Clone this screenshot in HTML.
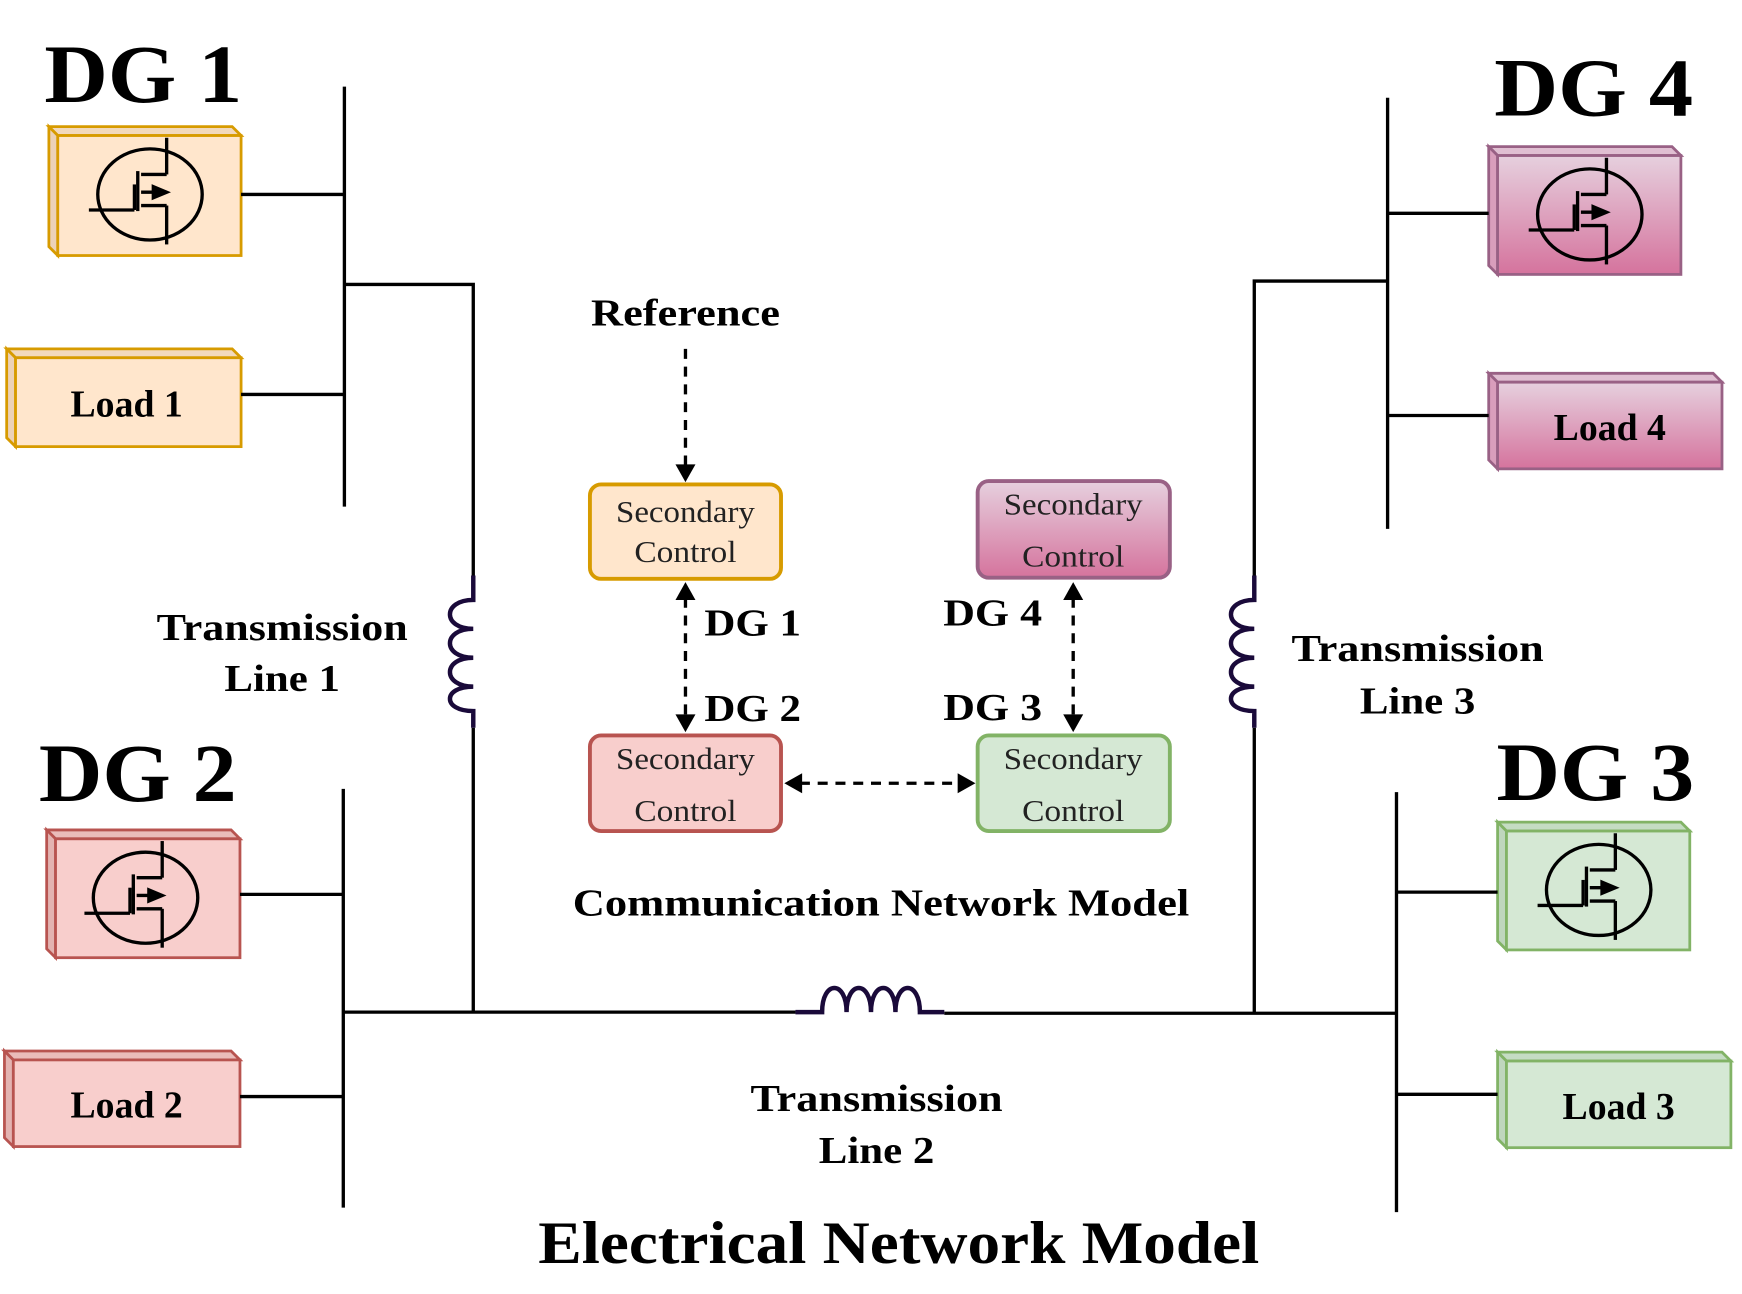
<!DOCTYPE html>
<html><head><meta charset="utf-8"><style>
html,body{margin:0;padding:0;background:#fff}
svg{display:block}
text{font-family:"Liberation Serif",serif}
</style></head><body>
<svg width="1742" height="1294" viewBox="0 0 1568 1164.7" preserveAspectRatio="none" xmlns="http://www.w3.org/2000/svg">
<defs>
<linearGradient id="pk" x1="0" y1="0" x2="0" y2="1"><stop offset="0" stop-color="#e6d0de"/><stop offset="1" stop-color="#d5739d"/></linearGradient>
<g id="mos" fill="none" stroke="#000" stroke-width="3">
<ellipse cx="83" cy="53" rx="47" ry="41"/>
<line x1="98" y1="2" x2="98" y2="35"/><line x1="98" y1="35" x2="75" y2="35"/>
<line x1="98" y1="63" x2="98" y2="98"/><line x1="98" y1="63" x2="75" y2="63"/>
<line x1="75" y1="51" x2="98" y2="51"/><path d="M86 46 L98 51 L86 56 Z" fill="#000"/>
<line x1="72" y1="32" x2="72" y2="68"/>
<line x1="28" y1="67" x2="69" y2="67"/><line x1="69" y1="44" x2="69" y2="67"/>
</g>
</defs>
<g stroke-width="2.5">
<g fill="#ffe6cc" stroke="#d79b00">
<path d="M44 114 L209 114 L217 122 L52 122 Z" fill="#f2d9bd"/><path d="M44 114 L52 122 L52 230 L44 222 Z" fill="#ecd2b8"/><rect x="52" y="122" width="165" height="108"/>
<path d="M6 314 L209 314 L217 322 L14 322 Z" fill="#f2d9bd"/><path d="M6 314 L14 322 L14 402 L6 394 Z" fill="#ecd2b8"/><rect x="14" y="322" width="203" height="80"/>
</g>
<g fill="#f8cecc" stroke="#b85450">
<path d="M42 747 L208 747 L216 755 L50 755 Z" fill="#eabcba"/><path d="M42 747 L50 755 L50 862 L42 854 Z" fill="#e3b3b1"/><rect x="50" y="755" width="166" height="107"/>
<path d="M4 946 L208 946 L216 954 L12 954 Z" fill="#eabcba"/><path d="M4 946 L12 954 L12 1032 L4 1024 Z" fill="#e3b3b1"/><rect x="12" y="954" width="204" height="78"/>
</g>
<g fill="url(#pk)" stroke="#996185">
<path d="M1340 132 L1505 132 L1513 140 L1348 140 Z" fill="#e0bfd2"/><path d="M1340 132 L1348 140 L1348 247 L1340 239 Z" fill="#d99ebc"/><rect x="1348" y="140" width="165" height="107"/>
<path d="M1340 336 L1542 336 L1550 344 L1348 344 Z" fill="#e0bfd2"/><path d="M1340 336 L1348 344 L1348 422 L1340 414 Z" fill="#d99ebc"/><rect x="1348" y="344" width="202" height="78"/>
</g>
<g fill="#d5e8d4" stroke="#82b366">
<path d="M1348 740 L1513 740 L1521 748 L1356 748 Z" fill="#c5dcc3"/><path d="M1348 740 L1356 748 L1356 855 L1348 847 Z" fill="#bfd6bd"/><rect x="1356" y="748" width="165" height="107"/>
<path d="M1348 947 L1550 947 L1558 955 L1356 955 Z" fill="#c5dcc3"/><path d="M1348 947 L1356 955 L1356 1033 L1348 1025 Z" fill="#bfd6bd"/><rect x="1356" y="955" width="202" height="78"/>
</g>
</g>
<use href="#mos" x="52" y="122"/>
<use href="#mos" x="48" y="755"/>
<use href="#mos" x="1348" y="140"/>
<use href="#mos" x="1356" y="748"/>
<g stroke="#000" stroke-width="3" fill="none">
<line x1="310" y1="78" x2="310" y2="456"/><line x1="217" y1="175" x2="310" y2="175"/><line x1="217" y1="355" x2="310" y2="355"/>
<polyline points="310,256 426,256 426,518"/><line x1="426" y1="655" x2="426" y2="911"/>
<line x1="309" y1="710" x2="309" y2="1087"/><line x1="216" y1="805" x2="309" y2="805"/><line x1="216" y1="987" x2="309" y2="987"/>
<line x1="309" y1="911" x2="716" y2="911"/><line x1="850" y1="912" x2="1257" y2="912"/>
<polyline points="1249,253 1129,253 1129,518"/><line x1="1129" y1="655" x2="1129" y2="912"/>
<line x1="1249" y1="88" x2="1249" y2="476"/><line x1="1249" y1="192" x2="1340" y2="192"/><line x1="1249" y1="374" x2="1340" y2="374"/>
<line x1="1257" y1="713" x2="1257" y2="1091"/><line x1="1257" y1="803" x2="1348" y2="803"/><line x1="1257" y1="985" x2="1348" y2="985"/>
</g>
<g stroke="#1a0a3a" stroke-width="4" fill="none">
<path d="M426 518 L426 540 C398 540 398 566 426 566 C398 566 398 592 426 592 C398 592 398 618 426 618 C398 618 398 640 426 640 L426 655"/>
<path d="M1129 518 L1129 540 C1101 540 1101 566 1129 566 C1101 566 1101 592 1129 592 C1101 592 1101 618 1129 618 C1101 618 1101 640 1129 640 L1129 655"/>
<path d="M716 911 L740 911 C740 882 762 882 762 911 C762 882 784 882 784 911 C784 882 806 882 806 911 C806 882 828 882 828 911 L850 911"/>
</g>
<g stroke-width="3.5">
<rect x="531" y="436" width="172" height="85" rx="10" fill="#ffe6cc" stroke="#d79b00"/>
<rect x="880" y="433" width="173" height="87" rx="10" fill="url(#pk)" stroke="#996185"/>
<rect x="531" y="662" width="172" height="86" rx="10" fill="#f8cecc" stroke="#b85450"/>
<rect x="880" y="662" width="173" height="86" rx="10" fill="#d5e8d4" stroke="#82b366"/>
</g>
<g font-size="28" text-anchor="middle" fill="#222" lengthAdjust="spacingAndGlyphs">
<text x="617" y="470" textLength="125" lengthAdjust="spacingAndGlyphs">Secondary</text><text x="617" y="506" textLength="92" lengthAdjust="spacingAndGlyphs">Control</text>
<text x="966" y="463" textLength="125" lengthAdjust="spacingAndGlyphs">Secondary</text><text x="966" y="510" textLength="92" lengthAdjust="spacingAndGlyphs">Control</text>
<text x="617" y="692" textLength="125" lengthAdjust="spacingAndGlyphs">Secondary</text><text x="617" y="739" textLength="92" lengthAdjust="spacingAndGlyphs">Control</text>
<text x="966" y="692" textLength="125" lengthAdjust="spacingAndGlyphs">Secondary</text><text x="966" y="739" textLength="92" lengthAdjust="spacingAndGlyphs">Control</text>
</g>
<g stroke="#000" stroke-width="3" stroke-dasharray="9,7" fill="none">
<line x1="617" y1="314" x2="617" y2="420"/>
<line x1="617" y1="538" x2="617" y2="645"/>
<line x1="966" y1="538" x2="966" y2="645"/>
<line x1="720" y1="705" x2="864" y2="705"/>
</g>
<g fill="#000">
<path d="M608 418 L617 434 L626 418 Z"/>
<path d="M608 540 L617 524 L626 540 Z"/><path d="M608 643 L617 659 L626 643 Z"/>
<path d="M957 540 L966 524 L975 540 Z"/><path d="M957 643 L966 659 L975 643 Z"/>
<path d="M722 696 L706 705 L722 714 Z"/><path d="M862 696 L878 705 L862 714 Z"/>
</g>
<g font-weight="bold">
<text x="40" y="92" font-size="74" textLength="178" lengthAdjust="spacingAndGlyphs">DG 1</text>
<text x="1345" y="104" font-size="74" textLength="179" lengthAdjust="spacingAndGlyphs">DG 4</text>
<text x="35" y="721" font-size="74" textLength="178" lengthAdjust="spacingAndGlyphs">DG 2</text>
<text x="1347" y="720" font-size="74" textLength="178" lengthAdjust="spacingAndGlyphs">DG 3</text>
<g font-size="34" text-anchor="middle">
<text x="114" y="375">Load 1</text><text x="114" y="1006">Load 2</text>
<text x="1449" y="396">Load 4</text><text x="1457" y="1007">Load 3</text>
<text x="617" y="293" textLength="170" lengthAdjust="spacingAndGlyphs">Reference</text>
<text x="254" y="576" textLength="226" lengthAdjust="spacingAndGlyphs">Transmission</text><text x="254" y="622" textLength="104" lengthAdjust="spacingAndGlyphs">Line 1</text>
<text x="1276" y="595" textLength="227" lengthAdjust="spacingAndGlyphs">Transmission</text><text x="1276" y="642" textLength="104" lengthAdjust="spacingAndGlyphs">Line 3</text>
<text x="789" y="1000" textLength="227" lengthAdjust="spacingAndGlyphs">Transmission</text><text x="789" y="1047" textLength="104" lengthAdjust="spacingAndGlyphs">Line 2</text>
<text x="793" y="824" textLength="555" lengthAdjust="spacingAndGlyphs">Communication Network Model</text>
</g>
<g font-size="34">
<text x="634" y="572" textLength="87" lengthAdjust="spacingAndGlyphs">DG 1</text><text x="634" y="649" textLength="87" lengthAdjust="spacingAndGlyphs">DG 2</text>
<text x="849" y="563" textLength="89" lengthAdjust="spacingAndGlyphs">DG 4</text><text x="849" y="648" textLength="89" lengthAdjust="spacingAndGlyphs">DG 3</text>
</g>
<text x="809" y="1137" font-size="54" text-anchor="middle" textLength="649" lengthAdjust="spacingAndGlyphs">Electrical Network Model</text>
</g>
</svg>
</body></html>
